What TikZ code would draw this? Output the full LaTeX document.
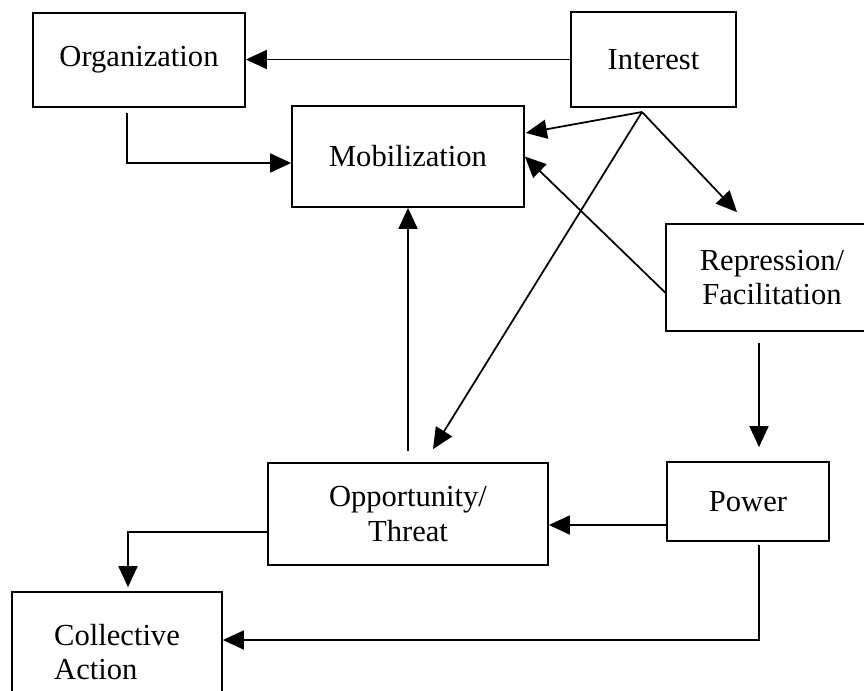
\documentclass[tikz,border=0pt]{standalone}
\usepackage{fontspec}
\setmainfont{Liberation Serif}
\usetikzlibrary{arrows.meta, calc, positioning}
\tikzset{
  box/.style  = {draw, line width=1pt, inner sep=0pt, align=center,
                 font=\fontsize{17.4}{19.6}\selectfont},
  arr/.style  = {-{Triangle[length=0.42cm, width=0.38cm]}, line width=1pt},
}

\begin{document}
\begin{tikzpicture}[x=0.02cm, y=-0.02cm]
  \useasboundingbox (0,0) rectangle (864,690);
  \clip (0,0) rectangle (864,690);

  \node[box, minimum width=4.24cm, minimum height=1.88cm] (org)      at (139,60)    {Organization};
  \node[box, minimum width=3.3cm,  minimum height=1.9cm]  (interest) at (653.5,59.5) {Interest};
  \node[box, minimum width=4.64cm, minimum height=2.02cm] (mob)      at (408,156.5) {Mobilization};
  \node[box, minimum width=4.24cm, minimum height=2.14cm] (rep)      at (772,277.5) {Repression/\\Facilitation};
  \node[box, minimum width=3.24cm, minimum height=1.58cm] (power)    at (748,501.5) {Power};
  \node[box, minimum width=5.6cm,  minimum height=2.04cm] (opp)      at (408,514)   {Opportunity/\\Threat};
  \node[box, minimum width=4.2cm,  minimum height=2.4cm, align=left] (coll) at (117,652) {Collective\\Action};

  \coordinate (fork) at (642,112);

  \draw[arr] (interest.west) -- (org.east |- interest.west);
  \draw[arr] ($(org.south)+(-12,5)$) |- ($(mob.west)+(0,6.5)$);
  \draw[arr] (fork) -- ($(mob.east)+(1,-23.5)$);
  \draw[arr] (fork) -- ($(rep.north)+(-35,-11)$);
  \draw[arr] (fork) -- ($(opp.north)+(25,-13)$);
  \draw[arr] ($(rep.west)+(0,15)$) -- (mob.east);
  \draw[arr] ($(rep.south)+(-13,11)$) -- ($(power.north)+(11,-14)$);
  \draw[arr] ($(power.west)+(0,23.5)$) -- ($(opp.east)+(0,11)$);
  \draw[arr] ($(opp.north)+(0,-11)$) -- (mob.south);
  \draw[arr] ($(opp.west)+(0,18)$) -| ($(coll.north)+(11,-4)$);
  \draw[arr] ($(power.south)+(11,3)$) |- ($(coll.east)+(0,-12)$);
\end{tikzpicture}
\end{document}
